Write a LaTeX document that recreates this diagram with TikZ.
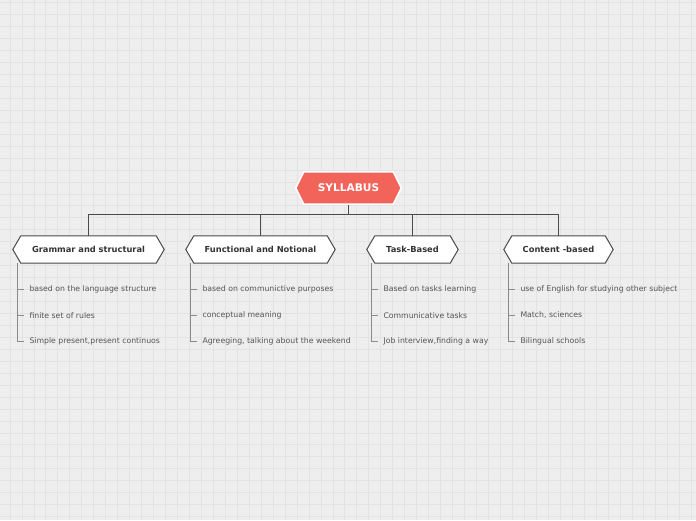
\documentclass[tikz,border=0pt]{standalone}
\usepackage{fontspec}
\setmainfont{DejaVu Sans}
\usetikzlibrary{backgrounds,calc}
\definecolor{bgc}{HTML}{EEEEEE}
\definecolor{gridc}{HTML}{E3E3E3}
\definecolor{rootc}{HTML}{F2645A}
\definecolor{edgec}{HTML}{4A4A4A}
\definecolor{titlec}{HTML}{333333}
\definecolor{itemc}{HTML}{555555}
\definecolor{branchc}{HTML}{8A8A8A}
\tikzset{
  x=1pt, y=-1pt,
  hexbox/.style={rectangle, draw=none, inner sep=0pt, minimum height=27pt, font=\fontsize{8.3}{9}\selectfont\bfseries, text=titlec},
  rootbox/.style={rectangle, draw=none, inner sep=0pt, minimum height=32pt, minimum width=105pt, font=\fontsize{10.6}{12}\selectfont\bfseries, text=white},
  itembox/.style={anchor=west, inner sep=0pt, font=\fontsize{7.75}{9}\selectfont, text=itemc},
  link/.style={draw=edgec, line width=1pt},
  branch/.style={draw=branchc, line width=0.8pt},
  hexline/.style={draw=edgec, line width=1pt, fill=white},
  roothex/.style={draw=white, line width=1.5pt, fill=rootc},
}
\newcommand{\hexpath}[3]{% node, indent, style
  \path[#3] (#1.west) -- ([xshift=#2]#1.north west) -- ([xshift=-#2]#1.north east) -- (#1.east) -- ([xshift=-#2]#1.south east) -- ([xshift=#2]#1.south west) -- cycle;}
\begin{document}
\begin{tikzpicture}
\useasboundingbox (0,0) rectangle (696,520);

% nodes
\node[rootbox] (root) at (348.5,188) {SYLLABUS};
\node[hexbox, minimum width=151pt] (g) at (88.5,249.5) {Grammar and structural};
\node[hexbox, minimum width=149pt] (f) at (260.5,249.5) {Functional and Notional};
\node[hexbox, minimum width=91pt] (t) at (412.5,249.5) {Task-Based};
\node[hexbox, minimum width=109pt] (c) at (558.5,249.5) {Content -based};

\begin{scope}[on background layer]
  \fill[bgc] (0,0) rectangle (696,520);
  \foreach \i in {0,...,57} {\draw[gridc, line width=0.8pt] (10+\i*11.96,0) -- (10+\i*11.96,520);}
  \foreach \j in {0,...,43} {\draw[gridc, line width=0.8pt] (0,2.7+\j*11.95) -- (696,2.7+\j*11.95);}
  \coordinate (bus) at ($(root.south)+(0,10)$);
  \draw[link] (root.south) -- (bus);
  \foreach \n in {g,f,t,c} {\draw[link] (bus) -| (\n.north);}
  \hexpath{root}{8}{roothex}
  \foreach \n in {g,f,t,c} {\hexpath{\n}{8}{hexline}}
\end{scope}

% items
\foreach \n/\a/\b/\cc in {
  g/based on the language structure/finite set of rules/{Simple present,present continuos},
  f/based on communictive purposes/conceptual meaning/{Agreeging, talking about the weekend},
  t/Based on tasks learning/Communicative tasks/{Job interview,finding a way},
  c/use of English for studying other subject/{Match, sciences}/Bilingual schools} {
  \coordinate (\n L) at ([xshift=5pt]\n.south west);
  \node[itembox] (\n1) at ($(\n L)+(11.5,26)$) {\a};
  \node[itembox] (\n2) at ($(\n L)+(11.5,52)$) {\b};
  \node[itembox] (\n3) at ($(\n L)+(11.5,78)$) {\cc};
  \draw[branch] (\n L) |- ([xshift=-5.5pt]\n3.west);
  \draw[branch] ([xshift=-11.5pt]\n1.west) -- ([xshift=-5.5pt]\n1.west);
  \draw[branch] ([xshift=-11.5pt]\n2.west) -- ([xshift=-5.5pt]\n2.west);
}
\end{tikzpicture}
\end{document}
